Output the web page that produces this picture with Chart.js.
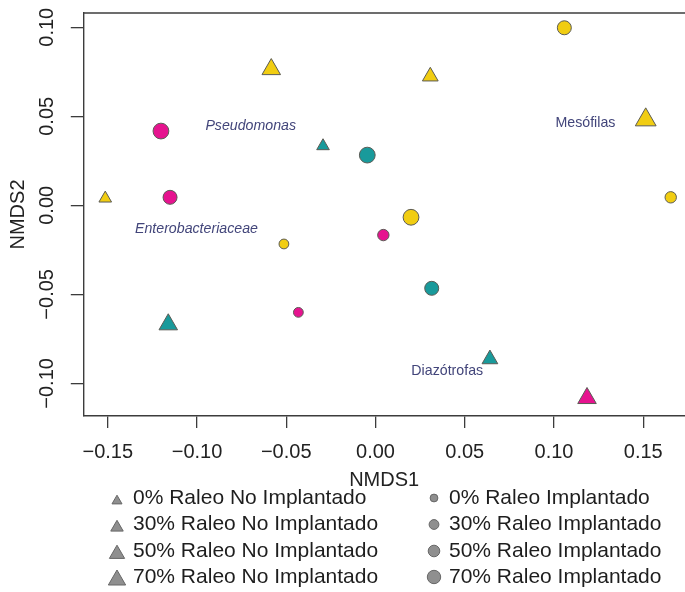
<!DOCTYPE html>
<html>
<head>
<meta charset="utf-8">
<script src="https://cdn.jsdelivr.net/npm/chart.js@4.4.1/dist/chart.umd.min.js"></script>
<style>
  html, body { margin: 0; padding: 0; background: #fff; overflow: hidden; }
  #wrap { width: 685px; height: 592px; }
</style>
</head>
<body>
<div id="wrap"><canvas id="nmds" width="685" height="592"></canvas></div>
<script>
// NMDS scores, one set of arrays per colour / shape
const yellowTriX = [-0.1514, 0.0307, -0.0584, 0.1514];
const yellowTriY = [0.0039, 0.0724, 0.0764, 0.0480];
const yellowTriRaleo = [0, 30, 50, 70];

const yellowCircX = [-0.0513, 0.1654, 0.1058, 0.0199];
const yellowCircY = [-0.0217, 0.0045, 0.0997, -0.0067];
const yellowCircRaleo = [0, 30, 50, 70];

const tealTriX = [-0.0294, 0.0641, -0.1161];
const tealTriY = [0.0333, -0.0864, -0.0669];
const tealTriRaleo = [0, 30, 50];

const tealCircX = [0.0315, -0.0046];
const tealCircY = [-0.0466, 0.0282];
const tealCircRaleo = [50, 70];

const magentaTriX = [0.1185];
const magentaTriY = [-0.1083];
const magentaTriRaleo = [50];

const magentaCircX = [-0.0432, 0.0044, -0.1151, -0.1202];
const magentaCircY = [-0.0601, -0.0167, 0.0045, 0.0417];
const magentaCircRaleo = [0, 30, 50, 70];

// group labels placed in the ordination space
const groupNames = ['Pseudomonas', 'Mesófilas', 'Enterobacteriaceae', 'Diazótrofas'];
const groupX = [-0.0699, 0.1176, -0.1003, 0.0402];
const groupY = [0.0447, 0.0460, -0.0133, -0.0929];
const groupItalic = [true, false, true, false];

const xTickValues = [-0.15, -0.10, -0.05, 0.00, 0.05, 0.10, 0.15];
const yTickValues = [-0.10, -0.05, 0.00, 0.05, 0.10];

const raleoLevels = [0, 30, 50, 70];
const legendTri = raleoLevels.map(r => r + '% Raleo No Implantado');
const legendCirc = raleoLevels.map(r => r + '% Raleo Implantado');

// marker sizes per thinning level
const triRadius = { 0: 7.3, 30: 9.1, 50: 10.7, 70: 12 };
const circRadius = { 0: 4.9, 30: 5.7, 50: 7.0, 70: 7.9 };
const legTriRadius = [5.8, 7.2, 8.8, 10];
const legCircRadius = [3.9, 4.9, 5.8, 6.7];

const YELLOW = '#f1cd12';
const TEAL = '#199a9b';
const MAGENTA = '#e6138f';
const EDGE = '#5b5b55';
const AXIS = '#3c3c3c';
const FONT = '"Liberation Sans", Arial, sans-serif';

function makeSet(xs, ys, raleo, style, color) {
  const sizes = style === 'triangle' ? triRadius : circRadius;
  return {
    data: xs.map((x, i) => ({ x: x, y: ys[i], raleo: raleo[i] })),
    pointStyle: style,
    backgroundColor: color,
    borderColor: EDGE,
    borderWidth: 1,
    pointRadius: ctx => (ctx.raw ? sizes[ctx.raw.raleo] : 5),
    pointHoverRadius: ctx => (ctx.raw ? sizes[ctx.raw.raleo] : 5),
    showLine: false
  };
}

function fmt(v) {
  return (v < 0 ? '\u2212' : '') + Math.abs(v).toFixed(2);
}

function noPad(s) {
  s.paddingLeft = 0; s.paddingRight = 0; s.paddingTop = 0; s.paddingBottom = 0;
}

// top side of the R style box
const boxTop = {
  id: 'boxTop',
  afterDraw(chart) {
    const { ctx, chartArea } = chart;
    ctx.save();
    ctx.strokeStyle = AXIS;
    ctx.lineWidth = 1.4;
    ctx.beginPath();
    ctx.moveTo(chartArea.left, chartArea.top);
    ctx.lineTo(chartArea.right, chartArea.top);
    ctx.stroke();
    ctx.restore();
  }
};

// text labels for the bacterial groups
const groupLabels = {
  id: 'groupLabels',
  afterDatasetsDraw(chart) {
    const { ctx, scales } = chart;
    ctx.save();
    ctx.fillStyle = '#42457a';
    ctx.textAlign = 'center';
    ctx.textBaseline = 'middle';
    groupNames.forEach((name, i) => {
      ctx.font = (groupItalic[i] ? 'italic ' : '') + '14.2px ' + FONT;
      ctx.fillText(name, scales.x.getPixelForValue(groupX[i]), scales.y.getPixelForValue(groupY[i]));
    });
    ctx.restore();
  }
};

// two column legend under the plot
const sizeLegend = {
  id: 'sizeLegend',
  afterDraw(chart) {
    const ctx = chart.ctx;
    const rowY = [498, 524.5, 551, 577];
    ctx.save();
    ctx.font = '21px ' + FONT;
    ctx.textBaseline = 'middle';
    ctx.textAlign = 'left';
    raleoLevels.forEach((lvl, i) => {
      ctx.fillStyle = '#8f8f8f';
      ctx.strokeStyle = '#666666';
      ctx.lineWidth = 1;
      Chart.helpers.drawPoint(ctx, { pointStyle: 'triangle', radius: legTriRadius[i], rotation: 0, borderWidth: 1 }, 117, rowY[i] + 3);
      Chart.helpers.drawPoint(ctx, { pointStyle: 'circle', radius: legCircRadius[i], rotation: 0, borderWidth: 1 }, 434, rowY[i]);
      ctx.fillStyle = '#1e1e1e';
      ctx.fillText(legendTri[i], 133, rowY[i]);
      ctx.fillText(legendCirc[i], 449, rowY[i]);
    });
    ctx.restore();
  }
};

new Chart(document.getElementById('nmds'), {
  type: 'scatter',
  data: {
    datasets: [
      makeSet(yellowTriX, yellowTriY, yellowTriRaleo, 'triangle', YELLOW),
      makeSet(yellowCircX, yellowCircY, yellowCircRaleo, 'circle', YELLOW),
      makeSet(tealTriX, tealTriY, tealTriRaleo, 'triangle', TEAL),
      makeSet(tealCircX, tealCircY, tealCircRaleo, 'circle', TEAL),
      makeSet(magentaTriX, magentaTriY, magentaTriRaleo, 'triangle', MAGENTA),
      makeSet(magentaCircX, magentaCircY, magentaCircRaleo, 'circle', MAGENTA)
    ]
  },
  options: {
    responsive: false,
    animation: false,
    devicePixelRatio: 1,
    layout: { autoPadding: false, padding: { left: 0, top: 13, right: 0, bottom: 100 } },
    plugins: {
      legend: { display: false },
      tooltip: { enabled: false }
    },
    scales: {
      x: {
        type: 'linear',
        position: 'bottom',
        min: -0.1637,
        max: 0.1734,
        afterBuildTicks: s => { s.ticks = xTickValues.map(v => ({ value: v })); },
        afterFit: s => { s.height = 76; noPad(s); },
        border: { display: true, color: AXIS, width: 1.4 },
        grid: { drawOnChartArea: false, drawTicks: true, tickLength: 12, color: AXIS, lineWidth: 1.3 },
        ticks: {
          autoSkip: false, maxRotation: 0, minRotation: 0, padding: 12,
          color: '#222', font: { family: FONT, size: 20 },
          callback: v => fmt(v)
        },
        title: {
          display: true, text: 'NMDS1', color: '#222',
          font: { family: FONT, size: 20 }, padding: { top: 0, bottom: 0 }
        }
      },
      y: {
        type: 'linear',
        position: 'left',
        min: -0.1183,
        max: 0.108,
        afterBuildTicks: s => { s.ticks = yTickValues.map(v => ({ value: v })); },
        afterFit: s => { s.width = 83.3; noPad(s); },
        border: { display: true, color: AXIS, width: 1.4 },
        grid: { drawOnChartArea: false, drawTicks: true, tickLength: 12.5, color: AXIS, lineWidth: 1.3 },
        ticks: {
          autoSkip: false, minRotation: 90, maxRotation: 90, crossAlign: 'center', padding: -1.5,
          color: '#222', font: { family: FONT, size: 20 },
          callback: v => fmt(v)
        },
        title: {
          display: true, text: 'NMDS2', color: '#222',
          font: { family: FONT, size: 20 }, padding: { top: 6, bottom: 0 }
        }
      }
    }
  },
  plugins: [boxTop, groupLabels, sizeLegend]
});
</script>
</body>
</html>
